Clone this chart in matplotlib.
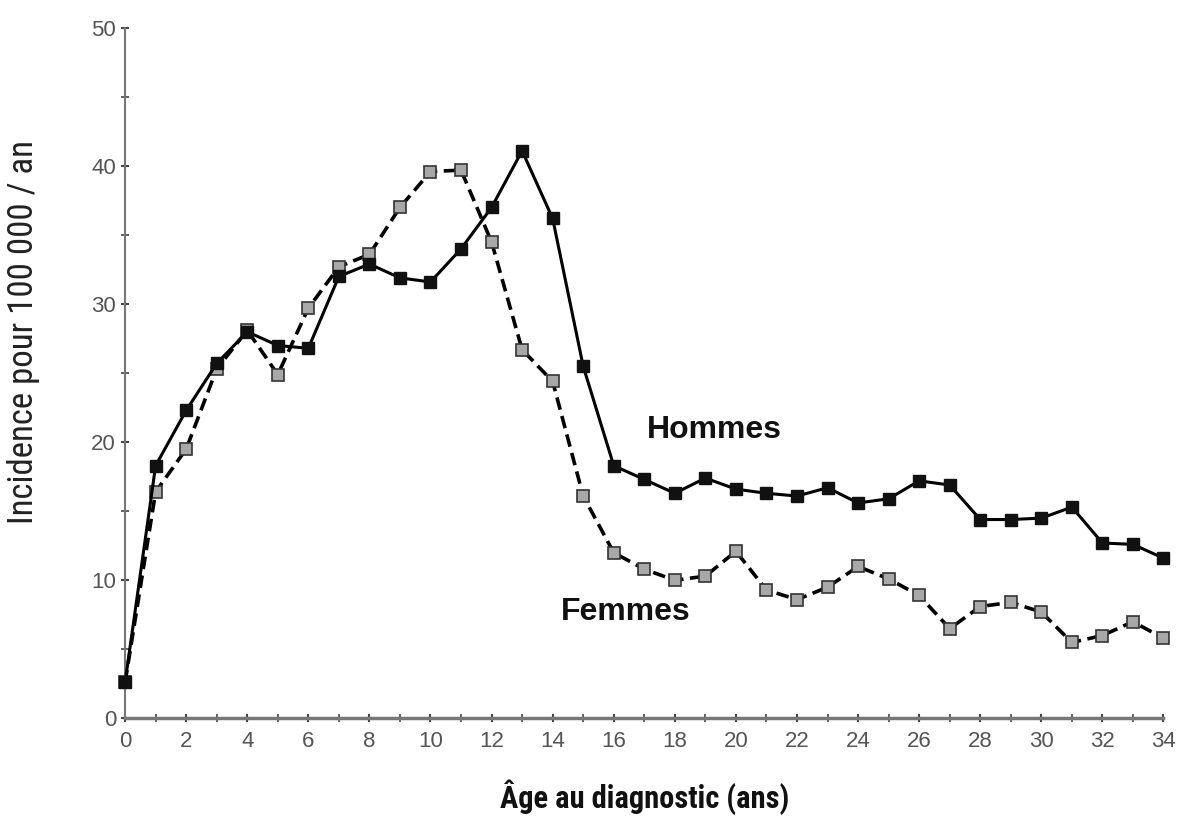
import matplotlib
matplotlib.use("Agg")
import matplotlib.pyplot as plt
from matplotlib.ticker import MultipleLocator
from matplotlib import font_manager

plt.rcParams['font.family'] = ['Liberation Sans', 'DejaVu Sans']

# a narrow sans face for the axis labels, if one is installed
installed = {f.name for f in font_manager.fontManager.ttflist}
narrow = None
for cand in ['Liberation Sans Narrow', 'Arial Narrow', 'Roboto Condensed',
             'Noto Sans Condensed', 'Open Sans Condensed', 'DejaVu Sans Condensed']:
    if cand in installed:
        narrow = cand
        break

ages = list(range(0, 35))
hommes = [2.6, 18.3, 22.3, 25.7, 28.0, 27.0, 26.8, 32.0, 32.9, 31.9, 31.6, 34.0,
          37.0, 41.1, 36.2, 25.5, 18.3, 17.3, 16.3, 17.4, 16.6, 16.3, 16.1, 16.7,
          15.6, 15.9, 17.2, 16.9, 14.4, 14.4, 14.5, 15.3, 12.7, 12.6, 11.6]
femmes = [2.6, 16.4, 19.5, 25.3, 28.1, 24.9, 29.7, 32.7, 33.6, 37.0, 39.6, 39.7,
          34.5, 26.7, 24.4, 16.1, 12.0, 10.8, 10.0, 10.3, 12.1, 9.3, 8.6, 9.5,
          11.0, 10.1, 8.9, 6.5, 8.1, 8.4, 7.7, 5.5, 6.0, 7.0, 5.8]
xticks = list(range(0, 35, 2))
yticks = [0, 10, 20, 30, 40, 50]

fig = plt.figure(figsize=(11.8, 8.21), dpi=100)
ax = fig.add_axes([0.106, 0.125, 0.880, 0.841])

ax.plot(ages, femmes, color='black', lw=2.6, linestyle=(0, (3.5, 1.8)),
        marker='s', markersize=8, markerfacecolor='#a8a8a8',
        markeredgecolor='#333333', markeredgewidth=1.2, zorder=2, clip_on=False)
ax.plot(ages, hommes, color='black', lw=2.2, marker='s', markersize=9,
        markerfacecolor='#111111', markeredgecolor='#111111', zorder=3,
        clip_on=False)

ax.set_xlim(0, 34)
ax.set_ylim(0, 50)
ax.set_xticks(xticks)
ax.set_yticks(yticks)
ax.xaxis.set_minor_locator(MultipleLocator(1))
ax.yaxis.set_minor_locator(MultipleLocator(5))

for s in ['top', 'right']:
    ax.spines[s].set_visible(False)
for s in ['left', 'bottom']:
    ax.spines[s].set_color('#777777')
    ax.spines[s].set_linewidth(1.5)
ax.spines['bottom'].set_linewidth(2.5)
ax.tick_params(axis='both', which='major', length=6, width=1.5, color='#444444',
               labelsize=16, labelcolor='#555555', direction='inout')
ax.tick_params(axis='both', which='minor', length=6, width=1.2, color='#444444',
               direction='inout')
ax.tick_params(axis='x', pad=6)

ax.text(19.3, 20.9, 'Hommes', fontsize=23, fontweight='bold', ha='center',
        va='center', color='#111111')
ax.text(16.4, 7.7, 'Femmes', fontsize=23, fontweight='bold', ha='center',
        va='center', color='#111111')

if narrow:
    lab_font = [narrow, 'DejaVu Sans']
    ysize, xsize = 25, 22
else:
    lab_font = ['Liberation Sans', 'DejaVu Sans']
    ysize, xsize = 24, 18.5
ax.set_ylabel('Incidence pour 100 000 / an', fontsize=ysize, family=lab_font,
              color='#222222', labelpad=10)
ax.yaxis.set_label_coords(-0.082, 0.56)
ax.set_xlabel('Âge au diagnostic (ans)', fontsize=xsize, fontweight='bold',
              family=lab_font, color='#111111', labelpad=20)

fig.savefig('out.png', dpi=100)
